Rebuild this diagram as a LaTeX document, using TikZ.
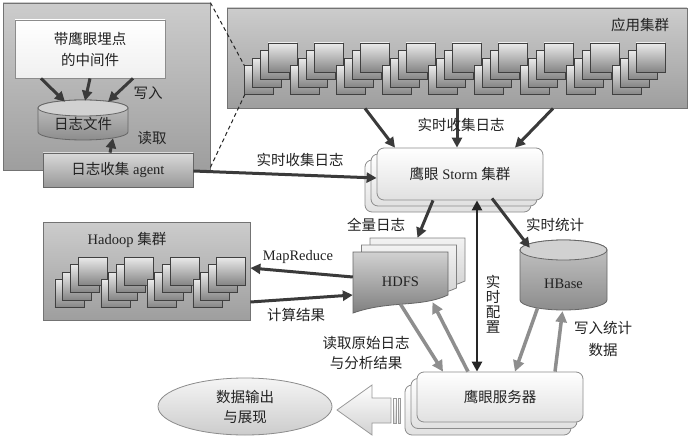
\documentclass[tikz,border=0pt]{standalone}
\usepackage{fontspec}
\setmainfont{Liberation Serif}
\newfontfamily\cjk{Noto Sans CJK SC}
\usetikzlibrary{arrows.meta,shapes.geometric}
\definecolor{dk}{HTML}{3A3A3A}
\definecolor{gr}{HTML}{8E8E8E}
\definecolor{txt}{HTML}{222222}
\begin{document}
\begin{tikzpicture}[x=1pt,y=-1pt,
  every node/.style={inner sep=0pt},
  fnt/.style={font=\fontsize{14.5}{20}\selectfont, text=txt, align=center},
  lbl/.style={font=\fontsize{14.5}{20}\selectfont\cjk, text=txt, align=center},
  bigbox/.style={draw=black!55, top color=black!20, bottom color=black!38, line width=0.8pt},
  graybox/.style={draw=black!60, top color=black!15, bottom color=black!40, line width=0.8pt},
  whitebox/.style={draw=black!45, top color=white, bottom color=black!6, line width=0.8pt},
  sq/.style={draw=black!75, top color=black!8, bottom color=black!48, line width=0.7pt},
  layer/.style={draw=black!45, top color=white, bottom color=black!12, rounded corners=7pt, line width=0.8pt},
  cylbody/.style={draw=black!60, top color=black!22, bottom color=black!45, line width=0.8pt},
  cyltop/.style={draw=black!60, fill=black!18, line width=0.8pt},
  docback/.style={draw=black!50, top color=black!5, bottom color=black!20, line width=0.8pt},
  docfront/.style={draw=black!60, top color=black!18, bottom color=black!50, line width=0.8pt},
  dashline/.style={draw=black!85, line width=1pt, dash pattern=on 4pt off 3pt},
  darr/.style={draw=dk, line width=3pt, -{Triangle[length=10pt,width=10pt]}},
  varr/.style={draw=black!85, line width=2.6pt, {Triangle[length=10pt,width=10pt]}-{Triangle[length=10pt,width=10pt]}},
  garr/.style={draw=gr, line width=3.5pt, -{Triangle[length=11pt,width=11pt]}},
  blockarr/.style={draw=black!40, top color=white, bottom color=black!18, line width=0.8pt}
]
\useasboundingbox (0,0) rectangle (691,441);
\fill[white] (0,0) rectangle (691,441);

% cluster boxes
\node[bigbox, minimum width=207pt, minimum height=167pt] (leftbox) at (106.5,86.5) {};
\node[bigbox, minimum width=460pt, minimum height=100pt] (app) at (457,58) {};
\node[lbl] (applbl) at (640,25) {应用集群};
\node[bigbox, minimum width=207pt, minimum height=98pt] (hadoop) at (146.5,271) {};
\node[fnt] (hadooplbl) at (127,240) {Hadoop {\cjk 集群}};

% server stacks
\foreach \i in {0,...,8}{\foreach \k in {3,2,1,0}{
  \draw[sq] ({268+46*\i-7.8*\k},{43+7.6*\k}) rectangle ++(29,29);}}
\foreach \i in {0,...,3}{\foreach \k in {3,2,1,0}{
  \draw[sq] ({78+46*\i-7.7*\k},{257+7.5*\k}) rectangle ++(29,28);}}

% dashed zoom lines
\coordinate (s1a) at (244.6,66);
\coordinate (s1b) at (244.6,95);
\draw[dashline] (leftbox.north east) -- (s1a);
\draw[dashline] ([yshift=3pt]leftbox.south east) -- (s1b);

% middleware
\node[whitebox, lbl, minimum width=150pt, minimum height=58pt, font=\fontsize{14.5}{21}\selectfont\cjk] (mid) at (90,49) {带鹰眼埋点\\的中间件};

% log file cylinder
\draw[cylbody] (38,108) -- (38,132) arc[start angle=180,end angle=360,x radius=45pt,y radius=8pt] -- (128,108) arc[start angle=0,end angle=180,x radius=45pt,y radius=8pt] -- cycle;
\draw[cyltop] (83,108) ellipse[x radius=45pt,y radius=8pt];
\node[minimum width=90pt, minimum height=40pt, label={[lbl,yshift=-4pt]center:日志文件}] (logf) at (83,120) {};

% agent
\node[graybox, fnt, minimum width=150pt, minimum height=34pt] (agent) at (118,170) {{\cjk 日志收集} agent};

% storm
\draw[layer] (365,160) rectangle ++(166,52);
\draw[layer] (371,154) rectangle ++(166,52);
\node[layer, fnt, minimum width=166pt, minimum height=52pt] (storm) at (460,174) {{\cjk 鹰眼} Storm {\cjk 集群}};

% server
\draw[layer] (405,385) rectangle ++(166,50);
\draw[layer] (411,378.5) rectangle ++(166,50);
\node[layer, lbl, minimum width=166pt, minimum height=50pt] (server) at (500,397) {鹰眼服务器};

% HDFS
\foreach \dx/\dy/\st in {17/-14/docback, 8.5/-7/docback, 0/0/docfront}{
  \begin{scope}[shift={(\dx,\dy)}]
    \draw[\st] (353,252) -- (448,252) -- (448,295) .. controls (420,308) and (390,300) .. (353,313) -- cycle;
  \end{scope}}
\node[fnt, minimum width=95pt, minimum height=60pt] (hdfs) at (400.5,282) {HDFS};

% HBase
\draw[cylbody] (520,250) -- (520,300) arc[start angle=180,end angle=360,x radius=43.5pt,y radius=10pt] -- (607,250) arc[start angle=0,end angle=180,x radius=43.5pt,y radius=10pt] -- cycle;
\draw[cyltop] (563.5,250) ellipse[x radius=43.5pt,y radius=10pt];
\node[minimum width=87pt, minimum height=70pt, label={[fnt,yshift=-9pt]center:HBase}] (hbase) at (563.5,275) {};

% output ellipse
\node[ellipse, draw=black!45, top color=black!4, bottom color=black!20, line width=0.8pt, lbl, inner sep=1pt, minimum width=174pt, minimum height=57pt] (out) at (245,406.5) {数据输出\\与展现};

% block arrow
\draw[blockarr] (337,410) -- (372,385) -- (372,398) -- (391,398) -- (391,423) -- (372,423) -- (372,435) -- cycle;
\draw[blockarr] (393,398) rectangle (396,423);
\draw[blockarr] (398,398) rectangle (400,423);

% dark arrows
\draw[darr] ([xshift=-49pt]mid.south) -- ([xshift=-18pt,yshift=-2pt]logf.north);
\draw[darr] (mid.south) -- ([xshift=2pt,yshift=-1pt]logf.north);
\draw[darr] ([xshift=43pt]mid.south) -- ([xshift=25pt,yshift=-2pt]logf.north);
\draw[darr] ([xshift=-8pt]agent.north) -- ([xshift=30pt,yshift=2pt]logf.south);
\draw[darr] ([xshift=-92pt]app.south) -- ([xshift=-65pt]storm.north);
\draw[darr] (app.south) -- ([xshift=-3pt]storm.north);
\draw[darr] ([xshift=96pt]app.south) -- ([xshift=55pt]storm.north);
\draw[darr] ([yshift=-1pt]agent.east) -- ([yshift=-4pt]storm.west);
\draw[darr] ([xshift=-27pt]storm.south) -- ([xshift=17pt,yshift=14pt]hdfs.north);
\draw[darr] ([xshift=32pt,yshift=2pt]storm.south) -- ([xshift=10pt,yshift=-8pt]hbase.north west);
\draw[varr] ([xshift=17pt]storm.south) -- ([xshift=-23pt]server.north);
\draw[darr] ([yshift=5pt]hdfs.west) -- ([yshift=3pt]hadoop.east);
\draw[darr] ([yshift=-31pt]hadoop.east) -- ([yshift=-13pt]hdfs.west);

% gray arrows
\draw[garr] ([yshift=8pt]hdfs.south) -- ([xshift=-57pt]server.north);
\draw[garr] ([xshift=-32pt]server.north) -- ([xshift=32pt,yshift=10pt]hdfs.south);
\draw[garr] ([xshift=-26pt,yshift=2pt]hbase.south) -- ([xshift=15pt]server.north);
\draw[garr] ([xshift=55pt]server.north) -- ([xshift=-1pt,yshift=-1pt]hbase.south);

% labels
\node[lbl] (l1) at (148,93) {写入};
\node[lbl] (l2) at (152,138) {读取};
\node[lbl] (l3) at (461,125) {实时收集日志};
\node[lbl] (l4) at (300,160) {实时收集日志};
\node[lbl] (l5) at (376,225) {全量日志};
\node[lbl] (l6) at (555,225) {实时统计};
\node[fnt] (l7) at (298,257) {MapReduce};
\node[lbl] (l8) at (296,315) {计算结果};
\node[lbl, font=\fontsize{14.5}{15}\selectfont\cjk] (l9) at (493,304.5) {实\\时\\配\\置};
\node[lbl, font=\fontsize{14.5}{22}\selectfont\cjk] (l10) at (603,339) {写入统计\\数据};
\node[lbl] (l11) at (366,353) {读取原始日志\\与分析结果};
\end{tikzpicture}
\end{document}
